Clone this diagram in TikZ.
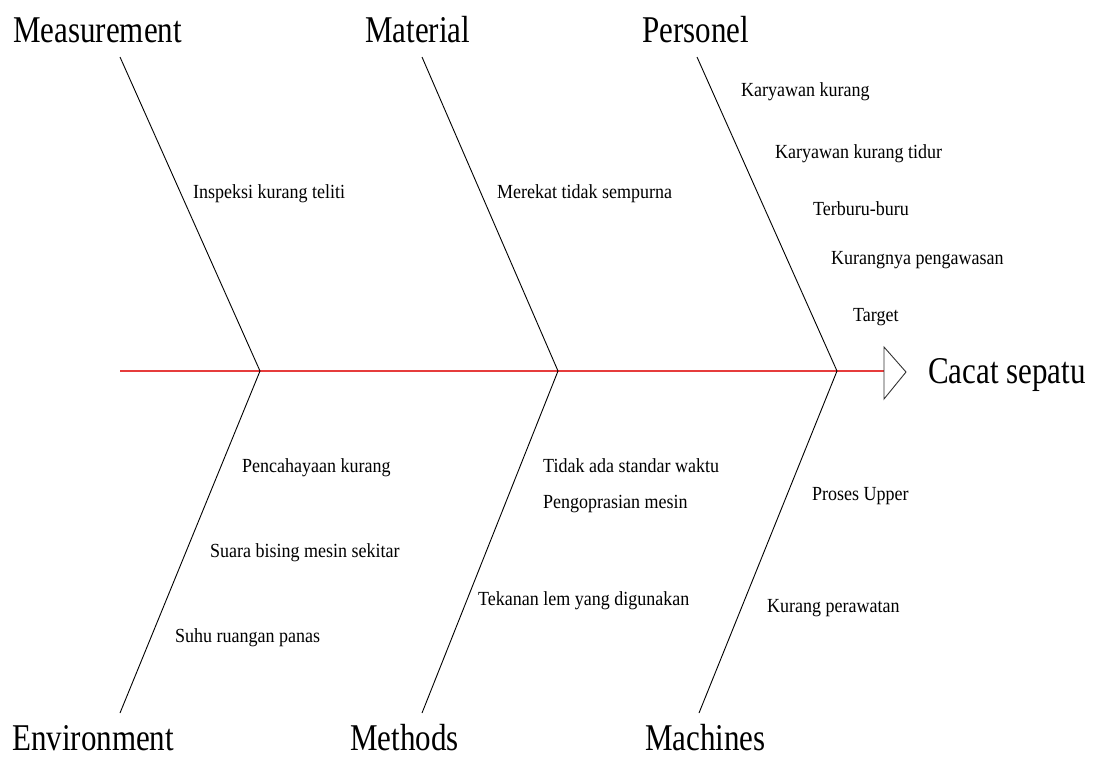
\documentclass[tikz,border=0pt]{standalone}
\usepackage{fontspec}
\setmainfont{Liberation Serif}
\newfontfamily\bigfont[FakeStretch=0.82]{Liberation Serif}
\newfontfamily\smallfont[FakeStretch=0.9]{Liberation Serif}
\definecolor{spinered}{RGB}{230,60,60}
\begin{document}
\begin{tikzpicture}[x=1pt,y=-1pt,
  cat/.style={anchor=base west, inner sep=0pt, font=\bigfont\fontsize{37.8}{40}\selectfont},
  cause/.style={anchor=base west, inner sep=0pt, font=\smallfont\fontsize{20}{22}\selectfont},
  bone/.style={draw=black, line width=0.9pt},
  spine/.style={draw=spinered, line width=1.2pt},
  head/.style={draw=black!80, line width=0.9pt}]
\useasboundingbox (0,0) rectangle (1101,756);
% coordinates
\coordinate (tail) at (120,371);
\coordinate (j1) at (260,371);
\coordinate (j2) at (558,371);
\coordinate (j3) at (837,371);
\coordinate (t1) at (120,57);
\coordinate (t2) at (422,57);
\coordinate (t3) at (697,57);
\coordinate (b1) at (120,713);
\coordinate (b2) at (422,713);
\coordinate (b3) at (699,713);
\coordinate (hl) at (884,371);
\coordinate (htop) at (884,347);
\coordinate (htip) at (906,372);
\coordinate (hbot) at (884,399);
% spine
\draw[spine] (tail) -- (hl);
\draw[head] (htop) -- (htip) -- (hbot) -- cycle;
% bones
\draw[bone] (t1) -- (j1) -- (b1);
\draw[bone] (t2) -- (j2) -- (b2);
\draw[bone] (t3) -- (j3) -- (b3);
% category labels
\node[cat] (meas) at (13,42) {Measurement};
\node[cat] (mat) at (365,42) {Material};
\node[cat] (pers) at (642,42) {Personel};
\node[cat] (env) at (12,750) {Environment};
\node[cat] (meth) at (350,750) {Methods};
\node[cat] (mach) at (645,750) {Machines};
\node[cat] (effect) at (928,383) {Cacat sepatu};
% causes
\node[cause] (c1) at (193,198) {Inspeksi kurang teliti};
\node[cause] (c2) at (497,198) {Merekat tidak sempurna};
\node[cause] (c3) at (741,96) {Karyawan kurang};
\node[cause] (c4) at (775,158) {Karyawan kurang tidur};
\node[cause] (c5) at (813,215) {Terburu-buru};
\node[cause] (c6) at (831,264) {Kurangnya pengawasan};
\node[cause] (c7) at (853,321) {Target};
\node[cause] (c8) at (242,472) {Pencahayaan kurang};
\node[cause] (c9) at (210,557) {Suara bising mesin sekitar};
\node[cause] (c10) at (175,642) {Suhu ruangan panas};
\node[cause] (c11) at (543,472) {Tidak ada standar waktu};
\node[cause] (c12) at (543,508) {Pengoprasian mesin};
\node[cause] (c13) at (478,605) {Tekanan lem yang digunakan};
\node[cause] (c14) at (812,500) {Proses Upper};
\node[cause] (c15) at (767,612) {Kurang perawatan};
\end{tikzpicture}
\end{document}
